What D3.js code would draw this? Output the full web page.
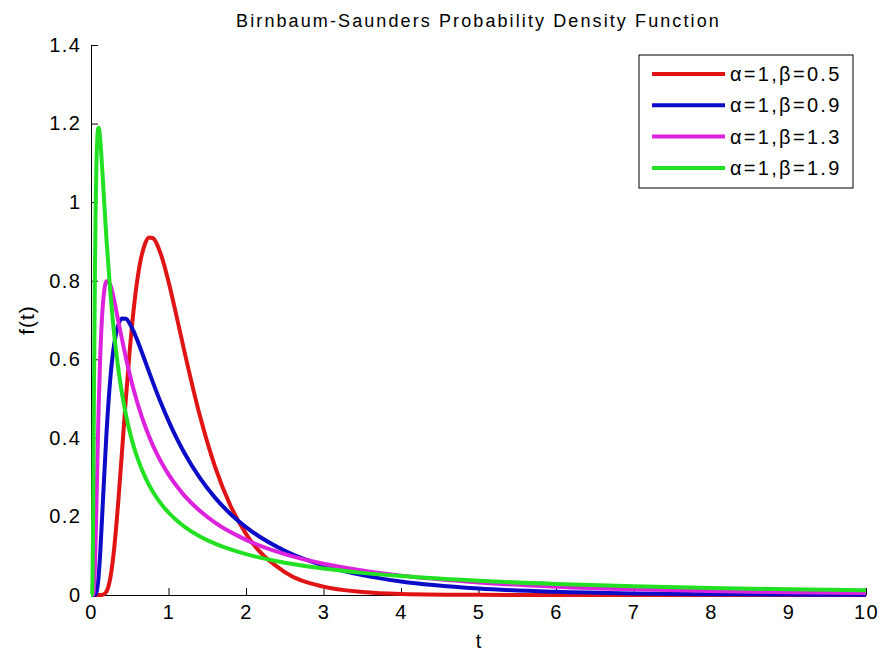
<!DOCTYPE html>
<html>
<head>
<meta charset="utf-8">
<script src="https://cdn.jsdelivr.net/npm/d3@7"></script>
<style>
  body { margin: 0; background: #fff; }
  svg { display: block; }
  text { font-family: "Liberation Sans", Arial, sans-serif; fill: #000; }
</style>
</head>
<body>
<script>
// valores de t
var tVals = [0, 0.01, 0.015, 0.02, 0.025, 0.03, 0.04, 0.05, 0.06, 0.07, 0.08, 0.09, 0.1, 0.12, 0.15,
  0.2, 0.25, 0.3, 0.35, 0.4, 0.45, 0.5, 0.55, 0.6, 0.7, 0.75, 0.8, 0.9, 1, 1.1, 1.2, 1.4, 1.6, 1.8,
  2, 2.5, 3, 3.5, 4, 5, 6, 7, 8, 9, 10];

// f(t) de cada curva
var rojo = [0, 0, 0, 0, 0, 0, 0, 0, 0, 0, 0, 0, 0, 0, 0.0005,
  0.0089, 0.0443, 0.1203, 0.2326, 0.3649, 0.4995, 0.6227, 0.7260, 0.8057, 0.8955, 0.9099, 0.9081, 0.8683, 0.7979, 0.7131, 0.6246, 0.4599, 0.3268, 0.2272,
  0.1557, 0.0584, 0.0213, 0.0077, 0.0028, 0.0004, 0, 0, 0, 0, 0];
var azul = [0, 0, 0, 0, 0, 0, 0, 0.0003, 0.0018, 0.0062, 0.0154, 0.0306, 0.0520, 0.1112, 0.2243,
  0.4125, 0.5527, 0.6398, 0.6859, 0.7037, 0.7030, 0.6906, 0.6710, 0.6472, 0.5943, 0.5672, 0.5406, 0.4898, 0.4433, 0.4012, 0.3634, 0.2992, 0.2478, 0.2063,
  0.1727, 0.1126, 0.0749, 0.0506, 0.0345, 0.0165, 0.0081, 0.0040, 0.0020, 0.0010, 0.0005];
var magenta = [0, 0, 0, 0, 0.0005, 0.0028, 0.0218, 0.0691, 0.1419, 0.2291, 0.3201, 0.4071, 0.4860, 0.6126, 0.7304,
  0.7987, 0.7886, 0.7488, 0.6999, 0.6506, 0.6041, 0.5615, 0.5229, 0.4882, 0.4288, 0.4034, 0.3803, 0.3403, 0.3069, 0.2786, 0.2543, 0.2149, 0.1844, 0.1601,
  0.1404, 0.1041, 0.0796, 0.0622, 0.0493, 0.0320, 0.0213, 0.0145, 0.0100, 0.0069, 0.0049];
var verde = [0, 0.0001, 0.0075, 0.0489, 0.1406, 0.2704, 0.5613, 0.8094, 0.9851, 1.0958, 1.1575, 1.1850, 1.1894, 1.1572, 1.0665,
  0.9042, 0.7688, 0.6624, 0.5791, 0.5129, 0.4595, 0.4156, 0.3791, 0.3483, 0.2994, 0.2796, 0.2623, 0.2333, 0.2100, 0.1909, 0.1749, 0.1497, 0.1307, 0.1159,
  0.1039, 0.0821, 0.0672, 0.0563, 0.0481, 0.0362, 0.0281, 0.0222, 0.0179, 0.0145, 0.0119];

var nombres = ["\u03b1=1,\u03b2=0.5", "\u03b1=1,\u03b2=0.9", "\u03b1=1,\u03b2=1.3", "\u03b1=1,\u03b2=1.9"];
var colores = ["#e01414", "#0c0cc8", "#dc22dc", "#22e022"];
var series = [rojo, azul, magenta, verde];

var xTicks = [0, 1, 2, 3, 4, 5, 6, 7, 8, 9, 10];
var yTicks = [0, 0.2, 0.4, 0.6, 0.8, 1, 1.2, 1.4];

var ancho = 882, alto = 657;

var svg = d3.select("body")
  .append("svg")
  .attr("width", ancho)
  .attr("height", alto);

var x = d3.scaleLinear().domain([0, 10]).range([91, 866]);
var y = d3.scaleLinear().domain([0, 1.4]).range([595, 45]);

// ejes estilo matlab, ticks hacia adentro
var ejeX = svg.append("g")
  .attr("transform", "translate(0," + y(0) + ")")
  .call(d3.axisBottom(x).tickValues(xTicks).tickSize(-7).tickSizeOuter(0).tickPadding(10)
    .tickFormat(d3.format("d")));

var ejeY = svg.append("g")
  .attr("transform", "translate(" + x(0) + ",0)")
  .call(d3.axisLeft(y).tickValues(yTicks).tickSize(-7).tickSizeOuter(0).tickPadding(9.5)
    .tickFormat(function(d){ return String(+d.toFixed(1)); }));

svg.selectAll(".tick text")
  .style("font-size", "20px")
  .style("letter-spacing", "1.5px")
  .style("font-family", "'Liberation Sans', Arial, sans-serif")
  .attr("fill", "#1a1a1a");
svg.selectAll(".domain, .tick line").attr("stroke", "#000").attr("stroke-width", 1);

// curvas
var linea = d3.line()
  .x(function(d){ return x(d[0]); })
  .y(function(d){ return y(d[1]); })
  .curve(d3.curveMonotoneX);

series.forEach(function(vals, i){
  svg.append("path")
    .datum(tVals.map(function(t, j){ return [t, vals[j]]; }))
    .attr("fill", "none")
    .attr("stroke", colores[i])
    .attr("stroke-width", 4)
    .attr("stroke-linejoin", "round")
    .attr("d", linea);
});

// titulo y etiquetas
svg.append("text")
  .attr("x", (x(0) + x(10)) / 2)
  .attr("y", 27)
  .attr("text-anchor", "middle")
  .style("font-size", "18px")
  .style("letter-spacing", "2.1px")
  .attr("fill", "#1a1a1a")
  .text("Birnbaum-Saunders Probability Density Function");

svg.append("text")
  .attr("x", (x(0) + x(10)) / 2)
  .attr("y", 648)
  .attr("text-anchor", "middle")
  .style("font-size", "20px")
  .text("t");

svg.append("text")
  .attr("transform", "translate(34," + y(0.7) + ") rotate(-90)")
  .attr("text-anchor", "middle")
  .style("font-size", "21px")
  .style("letter-spacing", "1px")
  .text("f(t)");

// leyenda
var leyenda = svg.append("g");
leyenda.append("rect")
  .attr("x", 639).attr("y", 55)
  .attr("width", 214).attr("height", 133)
  .attr("fill", "#fff").attr("stroke", "#000").attr("stroke-width", 1);

nombres.forEach(function(n, i){
  var yy = 74 + i * 31.3;
  leyenda.append("line")
    .attr("x1", 652).attr("x2", 725)
    .attr("y1", yy).attr("y2", yy)
    .attr("stroke", colores[i]).attr("stroke-width", 4);
  leyenda.append("text")
    .attr("x", 730).attr("y", yy + 7)
    .style("font-size", "20px")
    .style("letter-spacing", "2.3px")
    .attr("fill", "#1a1a1a")
    .text(n);
});
</script>
</body>
</html>
